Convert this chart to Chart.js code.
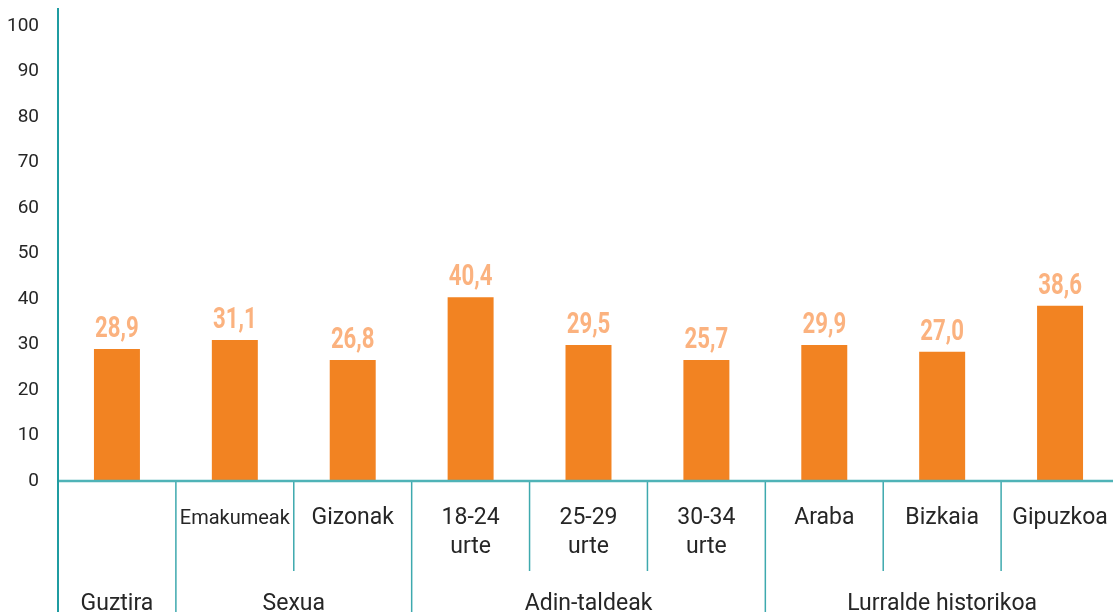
<!DOCTYPE html>
<html>
<head>
<meta charset="utf-8">
<script src="https://cdn.jsdelivr.net/npm/chart.js@4.4.0/dist/chart.umd.min.js"></script>
<style>
html,body{margin:0;padding:0;background:#ffffff;overflow:hidden;}
#wrap{width:1120px;height:612px;position:relative;}
canvas{display:block;}
</style>
</head>
<body>
<div id="wrap"><canvas id="c" width="1120" height="612"></canvas></div>
<script>
// ---- data ----
const categories = ['', 'Emakumeak', 'Gizonak', ['18-24', 'urte'], ['25-29', 'urte'], ['30-34', 'urte'], 'Araba', 'Bizkaia', 'Gipuzkoa'];
const values = [29.0, 31.0, 26.6, 40.4, 29.9, 26.6, 29.9, 28.4, 38.5];
const valueLabels = ['28,9', '31,1', '26,8', '40,4', '29,5', '25,7', '29,9', '27,0', '38,6'];
const groupNames = ['Guztira', 'Sexua', 'Adin-taldeak', 'Lurralde historikoa'];
const groupSizes = [1, 2, 3, 3];
const yTicks = [0, 10, 20, 30, 40, 50, 60, 70, 80, 90, 100];

const BAR = '#f28322';
const LABEL = '#fbb27f';
const TEAL = '#3ea9ae';
const TEXT = '#262626';
const FONT = 'Roboto, "Liberation Sans", sans-serif';

const deco = {
  id: 'deco',
  afterDatasetsDraw(chart) {
    const ctx = chart.ctx;
    const meta = chart.getDatasetMeta(0);
    ctx.save();
    ctx.fillStyle = LABEL;
    ctx.font = 'bold 30px ' + FONT;
    ctx.textAlign = 'center';
    ctx.textBaseline = 'alphabetic';
    meta.data.forEach((bar, i) => {
      ctx.save();
      ctx.translate(bar.x, bar.y - 12);
      ctx.scale(0.74, 1);
      ctx.fillText(valueLabels[i], 0, 0);
      ctx.restore();
    });
    ctx.restore();
  },
  afterDraw(chart) {
    const ctx = chart.ctx;
    const a = chart.chartArea;
    const x = chart.scales.x;
    const H = chart.height;
    const half = (x.getPixelForValue(1) - x.getPixelForValue(0)) / 2;
    const edge = i => (i < categories.length ? x.getPixelForValue(i) - half : x.getPixelForValue(i - 1) + half);
    const bounds = [0];
    let acc = 0;
    groupSizes.forEach(s => { acc += s; bounds.push(acc); });
    ctx.save();
    ctx.strokeStyle = TEAL;
    ctx.lineWidth = 1.5;
    for (let i = 1; i < categories.length; i++) {
      if (bounds.includes(i)) continue;
      const px = edge(i);
      ctx.beginPath(); ctx.moveTo(px, a.bottom); ctx.lineTo(px, a.bottom + 90); ctx.stroke();
    }
    bounds.forEach(b => {
      if (b === 0) return;
      const px = edge(b);
      ctx.beginPath(); ctx.moveTo(px, a.bottom); ctx.lineTo(px, H); ctx.stroke();
    });
    // group labels
    ctx.fillStyle = TEXT;
    ctx.font = '23px ' + FONT;
    ctx.textAlign = 'center';
    ctx.textBaseline = 'alphabetic';
    groupNames.forEach((g, gi) => {
      const cx = (edge(bounds[gi]) + edge(bounds[gi + 1])) / 2;
      ctx.fillText(g, cx, 609.5);
    });
    // x axis line
    ctx.strokeStyle = '#4fb3b7';
    ctx.lineWidth = 2.6;
    ctx.beginPath(); ctx.moveTo(a.left, a.bottom); ctx.lineTo(chart.width, a.bottom); ctx.stroke();
    // y axis line
    ctx.strokeStyle = '#1f9ca1';
    ctx.lineWidth = 2;
    ctx.beginPath(); ctx.moveTo(a.left, 8); ctx.lineTo(a.left, H); ctx.stroke();
    ctx.restore();
  }
};

new Chart(document.getElementById('c'), {
  type: 'bar',
  data: {
    labels: categories,
    datasets: [{
      data: values,
      backgroundColor: BAR,
      borderWidth: 0,
      barPercentage: 0.39,
      categoryPercentage: 1.0
    }]
  },
  options: {
    responsive: false,
    maintainAspectRatio: false,
    animation: false,
    layout: { padding: { top: 26, right: 1, left: 0, bottom: 0 } },
    plugins: { legend: { display: false }, tooltip: { enabled: false } },
    scales: {
      x: {
        grid: { display: false, drawTicks: false },
        border: { display: false },
        afterFit: s => { s.height = 131; s.paddingLeft = 0; s.paddingRight = 0; },
        ticks: {
          color: TEXT,
          font: c => ({ family: FONT, size: c.index === 1 ? 20 : 23, lineHeight: '29px' }),
          padding: 23,
          maxRotation: 0,
          autoSkip: false
        }
      },
      y: {
        min: 0,
        max: 100,
        afterFit: s => { s.width = 58; s.paddingTop = 0; s.paddingBottom = 0; },
        afterBuildTicks: s => { s.ticks = yTicks.map(v => ({ value: v })); },
        grid: { display: false, drawTicks: false },
        border: { display: false },
        ticks: {
          color: TEXT,
          font: { family: FONT, size: 19 },
          padding: 19
        }
      }
    }
  },
  plugins: [deco]
});
</script>
</body>
</html>
